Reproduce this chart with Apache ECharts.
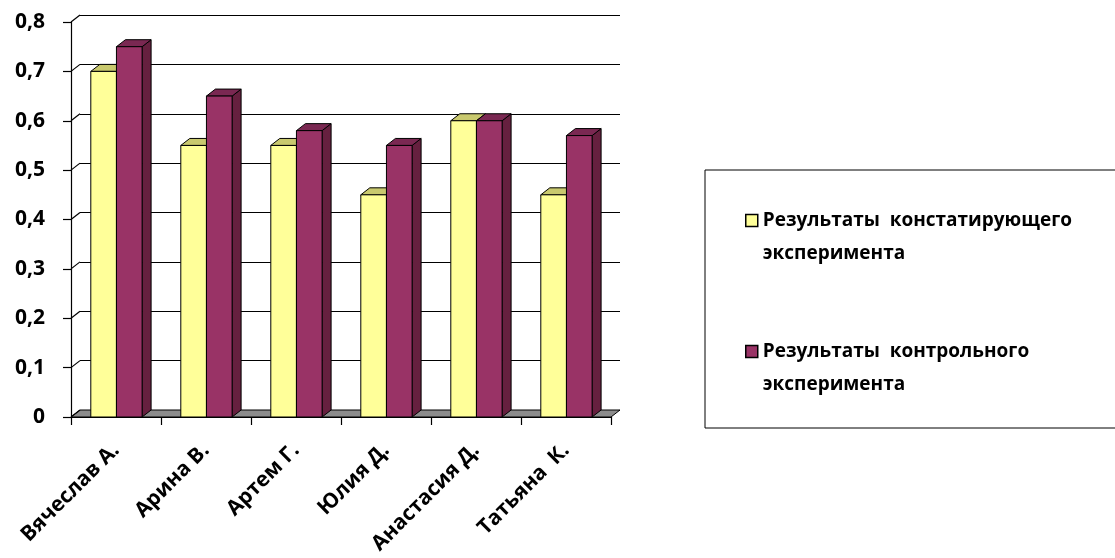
<!DOCTYPE html>
<html>
<head>
<meta charset="utf-8">
<script src="https://cdn.jsdelivr.net/npm/echarts@6/dist/echarts.min.js"></script>
<style>html,body{margin:0;padding:0;background:#fff;}#c{width:1115px;height:558px;}</style>
</head>
<body>
<div id="c"></div>
<script>
const categories = ['Вячеслав А.', 'Арина В.', 'Артем Г.', 'Юлия Д.', 'Анастасия Д.', 'Татьяна  К.'];
const seriesNames = ['Результаты  констатирующего эксперимента', 'Результаты  контрольного эксперимента'];
const constValues = [0.70, 0.55, 0.55, 0.45, 0.60, 0.45];
const controlValues = [0.75, 0.65, 0.58, 0.55, 0.60, 0.57];
const yTickValues = [0, 0.1, 0.2, 0.3, 0.4, 0.5, 0.6, 0.7, 0.8];
const yTickLabels = ['0', '0,1', '0,2', '0,3', '0,4', '0,5', '0,6', '0,7', '0,8'];

const DX = 9, DY = -7;
const FONT = 'Open Sans';

function barRenderer(startFrac, widthFrac, front, top, side) {
  return function (params, api) {
    const i = api.value(0), v = api.value(1);
    const pTop = api.coord([i, v]);
    const pBase = api.coord([i, 0]);
    const bw = api.size([1, 0])[0];
    const x0 = pTop[0] + bw * startFrac;
    const x1 = x0 + bw * widthFrac;
    const yT = pTop[1], yB = pBase[1];
    const stroke = {stroke: '#000', lineWidth: 1, lineJoin: 'round'};
    return {
      type: 'group',
      children: [
        {type: 'polygon', shape: {points: [[x1, yB], [x1 + DX, yB + DY], [x1 + DX, yT + DY], [x1, yT]]},
         style: Object.assign({fill: side}, stroke)},
        {type: 'polygon', shape: {points: [[x0, yT], [x1, yT], [x1 + DX, yT + DY], [x0 + DX, yT + DY]]},
         style: Object.assign({fill: top}, stroke)},
        {type: 'rect', shape: {x: x0, y: yT, width: x1 - x0, height: yB - yT},
         style: Object.assign({fill: front}, stroke)}
      ]
    };
  };
}

const chart = echarts.init(document.getElementById('c'), null, {renderer: 'canvas'});
const option = {
  animation: false,
  backgroundColor: '#fff',
  graphic: [{
    type: 'rect', z: 0, silent: true,
    shape: {x: 705, y: 170, width: 430, height: 258},
    style: {fill: 'none', stroke: '#000', lineWidth: 1}
  }],
  grid: [
    {left: 71, right: 504, top: 22, bottom: 141},
    {left: 80, right: 495, top: 15, bottom: 148}
  ],
  xAxis: [
    {
      type: 'category', gridIndex: 0, data: categories,
      axisLine: {lineStyle: {color: '#000', width: 1.2}},
      axisTick: {show: true, length: 8, lineStyle: {color: '#000', width: 1.2}},
      axisLabel: {interval: 0, rotate: 45, margin: 30, color: '#000', fontFamily: FONT, fontWeight: 'bold', fontSize: 21}
    },
    {type: 'category', gridIndex: 1, data: categories, show: false}
  ],
  yAxis: [
    {
      type: 'value', gridIndex: 0, min: 0, max: 0.8, interval: 0.1,
      axisLine: {show: true, lineStyle: {color: '#000', width: 1.2}},
      axisTick: {show: true, length: 8, lineStyle: {color: '#000', width: 1.2}},
      splitLine: {show: false},
      axisLabel: {
        margin: 26, color: '#000', fontFamily: FONT, fontWeight: 'bold', fontSize: 21,
        formatter: function (v) {
          const k = yTickValues.findIndex(t => Math.abs(t - v) < 1e-6);
          return k >= 0 ? yTickLabels[k] : '';
        }
      }
    },
    {
      type: 'value', gridIndex: 1, min: 0, max: 0.8, interval: 0.1,
      axisLine: {show: false}, axisTick: {show: false}, axisLabel: {show: false},
      splitLine: {show: true, lineStyle: {color: '#000', width: 1.2}}
    }
  ],
  legend: {
    orient: 'vertical', left: 745, top: 171, padding: 0,
    itemWidth: 12, itemHeight: 12, itemGap: 32,
    icon: 'rect',
    itemStyle: {borderColor: '#000', borderWidth: 1.5},
    textStyle: {fontFamily: FONT, fontWeight: 'bold', fontSize: 19, color: '#000', lineHeight: 33},
    formatter: function (name) {
      const k = name.lastIndexOf(' ');
      return '\n' + name.slice(0, k) + '\n' + name.slice(k + 1);
    },
    data: seriesNames
  },
  series: [
    {
      type: 'custom', name: 'floor', xAxisIndex: 0, yAxisIndex: 0, silent: true, z: 1,
      data: [[0, 0]],
      renderItem: function (params, api) {
        const cs = params.coordSys;
        const y0 = api.coord([0, 0])[1];
        return {
          type: 'polygon',
          shape: {points: [[cs.x, y0], [cs.x + cs.width, y0], [cs.x + cs.width + DX, y0 + DY], [cs.x + DX, y0 + DY]]},
          style: {fill: '#8c8c8c', stroke: '#000', lineWidth: 1}
        };
      }
    },
    {
      type: 'custom', name: 'wall', xAxisIndex: 0, yAxisIndex: 0, silent: true, z: 1,
      data: yTickValues.map(v => [0, v]),
      renderItem: function (params, api) {
        const cs = params.coordSys;
        const y = api.coord([0, api.value(1)])[1];
        return {
          type: 'line',
          shape: {x1: cs.x, y1: y, x2: cs.x + DX, y2: y + DY},
          style: {stroke: '#000', lineWidth: 1.2}
        };
      }
    },
    {
      type: 'custom', name: seriesNames[0], xAxisIndex: 0, yAxisIndex: 0, z: 3,
      itemStyle: {color: '#FFFF99'},
      data: constValues.map((v, i) => [i, v]),
      renderItem: barRenderer(-0.28, 0.285, '#FFFF99', '#C9C96E', '#B3B35C')
    },
    {
      type: 'custom', name: seriesNames[1], xAxisIndex: 0, yAxisIndex: 0, z: 4,
      itemStyle: {color: '#993366'},
      data: controlValues.map((v, i) => [i, v]),
      renderItem: barRenderer(0.005, 0.285, '#993366', '#7A2852', '#66203F')
    }
  ]
};
chart.setOption(option);
</script>
</body>
</html>
